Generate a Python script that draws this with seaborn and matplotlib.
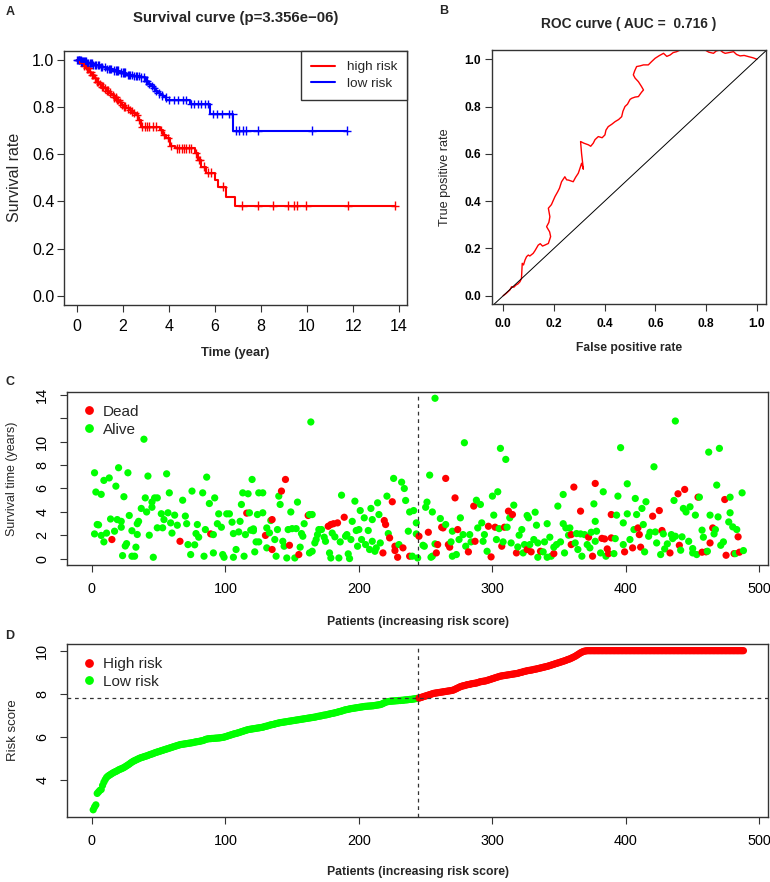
import numpy as np
import pandas as pd
import matplotlib
matplotlib.use("Agg")
import matplotlib.pyplot as plt
from matplotlib.lines import Line2D
import seaborn as sns

# ---------------- Panel A: Kaplan-Meier step data ----------------
red_time = [0, 0.15, 0.3, 0.41, 0.52, 0.62, 0.73, 0.84, 0.95, 1.06, 1.17, 1.28, 1.38, 1.49, 1.6, 1.71,
            1.82, 1.93, 2.04, 2.15, 2.26, 2.36, 2.46, 2.55, 2.65, 2.77, 3.6, 3.74, 3.89, 4.03, 4.25,
            5.12, 5.26, 5.41, 5.62, 5.99, 6.13, 6.46, 6.88, 13.81]
red_surv = [1.0, 0.985, 0.975, 0.964, 0.95, 0.936, 0.922, 0.908, 0.897, 0.887, 0.879, 0.870, 0.861,
            0.852, 0.841, 0.83, 0.82, 0.809, 0.802, 0.795, 0.788, 0.781, 0.774, 0.767, 0.745, 0.717,
            0.703, 0.682, 0.668, 0.635, 0.625, 0.604, 0.576, 0.548, 0.522, 0.491, 0.463, 0.42, 0.382,
            0.382]
blue_time = [0, 0.2, 0.41, 0.7, 0.99, 1.28, 1.57, 1.86, 2.15, 2.45, 2.73, 2.94, 3.09, 3.2, 3.3, 3.41,
             3.52, 3.63, 3.74, 3.89, 4.9, 5.77, 6.78, 11.75]
blue_surv = [1.0, 0.993, 0.986, 0.978, 0.969, 0.962, 0.955, 0.946, 0.936, 0.931, 0.926, 0.912, 0.898,
             0.889, 0.88, 0.869, 0.858, 0.85, 0.841, 0.83, 0.813, 0.77, 0.70, 0.70]
red_censor = [0.3, 0.38, 0.45, 0.5, 0.58, 0.66, 0.7, 0.78, 0.88, 0.92, 1.0, 1.1, 1.15, 1.2, 1.3, 1.35,
              1.42, 1.55, 1.62, 1.68, 1.75, 1.8, 1.88, 1.98, 2.05, 2.1, 2.2, 2.3, 2.4, 2.5, 2.6, 2.7,
              2.85, 2.95, 3.05, 3.15, 3.3, 3.45, 3.65, 3.8, 3.95, 4.1, 4.35, 4.45, 4.55, 4.65, 4.75,
              4.85, 4.95, 5.18, 5.3, 5.35, 5.5, 5.7, 5.84, 6.35, 7.19, 7.87, 8.52, 9.17, 9.43, 9.54,
              9.97, 11.78, 13.81]
blue_censor = [0.02, 0.05, 0.08, 0.1, 0.13, 0.16, 0.2, 0.24, 0.28, 0.32, 0.36, 0.4, 0.45, 0.5, 0.55,
               0.6, 0.65, 0.7, 0.78, 0.85, 0.9, 0.95, 1.05, 1.1, 1.2, 1.3, 1.4, 1.45, 1.5, 1.6, 1.7,
               1.75, 1.8, 1.9, 2.0, 2.05, 2.1, 2.2, 2.25, 2.3, 2.4, 2.5, 2.55, 2.6, 2.7, 2.8, 2.9, 3.0,
               3.05, 3.15, 3.25, 3.35, 3.45, 3.55, 3.7, 3.85, 4.0, 4.2, 4.4, 4.6, 4.75, 4.95, 5.1,
               5.25, 5.4, 5.55, 5.7, 5.9, 6.1, 6.3, 6.6, 6.75, 6.93, 7.05, 7.2, 7.36, 7.85, 10.22, 11.74]
km_title = "Survival curve (p=3.356e\u221206)"

# ---------------- Panel B: ROC curve ----------------
roc_fpr = [0, 0.012, 0.026, 0.033, 0.042, 0.05, 0.058, 0.066, 0.072, 0.075, 0.08, 0.086, 0.092,
           0.099, 0.105, 0.118, 0.125, 0.138, 0.146, 0.155, 0.164, 0.178, 0.187, 0.183, 0.171, 0.18,
           0.184, 0.178, 0.19, 0.204, 0.215, 0.222, 0.23, 0.243, 0.25, 0.257, 0.276, 0.285, 0.296,
           0.303, 0.309, 0.316, 0.309, 0.305, 0.318, 0.336, 0.345, 0.355, 0.362, 0.375, 0.39, 0.401,
           0.405, 0.414, 0.428, 0.441, 0.455, 0.467, 0.472, 0.48, 0.49, 0.5, 0.507, 0.52, 0.533,
           0.545, 0.553, 0.545, 0.533, 0.52, 0.513, 0.518, 0.526, 0.54, 0.553, 0.572, 0.585, 0.599,
           0.615, 0.632, 0.645, 0.658, 0.67, 0.684, 0.7, 0.717, 0.75, 0.796, 0.81, 0.829, 0.84,
           0.855, 0.865, 0.875, 0.89, 0.908, 0.92, 0.934, 0.95, 0.967, 0.985, 1.0]
roc_tpr = [0, 0.01, 0.024, 0.038, 0.036, 0.045, 0.05, 0.059, 0.073, 0.137, 0.13, 0.151, 0.165,
           0.172, 0.168, 0.179, 0.19, 0.214, 0.22, 0.21, 0.214, 0.221, 0.25, 0.27, 0.292, 0.31,
           0.334, 0.37, 0.385, 0.419, 0.44, 0.455, 0.482, 0.503, 0.49, 0.489, 0.482, 0.5, 0.518,
           0.54, 0.56, 0.535, 0.6, 0.652, 0.645, 0.638, 0.632, 0.645, 0.66, 0.673, 0.668, 0.68,
           0.7, 0.715, 0.725, 0.736, 0.745, 0.757, 0.78, 0.80, 0.81, 0.83, 0.835, 0.84, 0.842,
           0.86, 0.87, 0.885, 0.905, 0.92, 0.934, 0.95, 0.969, 0.972, 0.976, 0.976, 0.99, 1.004,
           1.015, 1.025, 1.012, 1.018, 1.028, 1.032, 1.04, 1.042, 1.045, 1.039, 1.03, 1.025, 1.035,
           1.039, 1.03, 1.025, 1.028, 1.032, 1.02, 1.014, 1.016, 1.011, 1.006, 1.0]
roc_title = "ROC curve ( AUC =  0.716 )"

# ---------------- Panel C: survival status per patient (patient, years) ----------------
dead_points = [(15, 1.65), (66, 1.5), (89, 2.13), (116, 3.9), (130, 2.0), (135, 3.35), (135, 0.8),
               (142, 5.78), (145, 6.77), (148, 1.16), (155, 0.37), (162, 3.7), (177, 2.78), (179, 2.93),
               (181, 3.0), (184, 3.07), (189, 3.55), (218, 0.51), (219, 3.27), (220, 2.93), (223, 1.79),
               (225, 4.87), (227, 1.08), (227, 0.71), (229, 0.14), (233, 0.94), (238, 0.23), (245, 1.93),
               (252, 2.27), (258, 0.51), (259, 1.22), (262, 2.7), (263, 2.64), (265, 6.86), (267, 1.22),
               (268, 1.0), (272, 5.2), (274, 2.5), (282, 0.6), (286, 4.5), (287, 1.5), (297, 2.78),
               (299, 0.17), (302, 2.7), (307, 1.08), (309, 2.7), (312, 4.07), (315, 3.78), (318, 0.51),
               (326, 0.8), (329, 0.6), (336, 0.65), (346, 0.45), (359, 1.22), (359, 2.07), (361, 6.12),
               (366, 4.07), (372, 1.85), (375, 0.23), (377, 6.43), (382, 1.75), (384, 1.7), (386, 0.85),
               (387, 0.45), (389, 3.78), (389, 1.79), (399, 0.6), (405, 0.94), (409, 2.64), (410, 2.07),
               (411, 1.0), (420, 3.64), (425, 4.12), (427, 2.42), (433, 0.51), (439, 5.55), (440, 1.16),
               (444, 5.92), (454, 5.26), (457, 0.57), (460, 0.6), (463, 1.36), (465, 2.64), (474, 5.06),
               (475, 0.31), (481, 0.45), (484, 1.88), (485, 0.57)]
alive_points = [
    (2, 7.34), (4, 2.93), (5, 2.9), (2, 2.13), (3, 5.7), (7, 5.5), (7, 2.0), (9, 6.69), (9, 1.45),
    (13, 6.9), (11, 2.2), (14, 3.4), (17, 2.36), (18, 6.2), (20, 7.77), (19, 3.35), (22, 3.2),
    (22, 2.7), (24, 5.3), (27, 7.34), (26, 1.3), (25, 1.1), (28, 3.7), (30, 2.4), (23, 0.28),
    (30, 0.23), (32, 0.23), (33, 1.0), (34, 3.0), (34, 2.08), (35, 3.2), (39, 10.2), (37, 4.3),
    (40, 5.2), (42, 7.06), (41, 4.0), (43, 2.02), (46, 0.14), (45, 4.4), (47, 5.2), (49, 5.2),
    (45, 4.85), (49, 2.65), (52, 3.85), (53, 2.65), (54, 3.35), (56, 7.25), (58, 5.63), (57, 3.93),
    (59, 3.07), (60, 2.2), (62, 3.73), (64, 2.87), (68, 5.0), (70, 3.65), (71, 3.0), (72, 1.22),
    (74, 0.37), (75, 5.78), (77, 1.2), (78, 2.16), (79, 2.93), (80, 1.85), (83, 5.63), (84, 0.23),
    (86, 6.97), (85, 2.5), (88, 4.72), (91, 2.07), (92, 5.2), (91, 0.51), (94, 3.0), (95, 3.84),
    (97, 2.7), (98, 0.37), (99, 0.14), (101, 3.84), (103, 3.84), (105, 3.13), (106, 0.14),
    (106, 2.16), (108, 0.8), (110, 2.3), (111, 3.2), (112, 4.64), (113, 5.63), (114, 0.23),
    (115, 2.07),
    (117, 5.55), (118, 3.93), (120, 6.77), (121, 2.56), (123, 1.45), (122, 0.6), (125, 5.63),
    (128, 5.63), (124, 3.78), (128, 3.93), (119, 2.45), (121, 2.4), (125, 1.45), (131, 2.64),
    (134, 3.27), (133, 2.22), (131, 0.94), (137, 1.65), (139, 2.5), (138, 0.23), (140, 5.35),
    (141, 4.64), (143, 1.5), (144, 1.08), (146, 0.08), (147, 2.5), (149, 4.0), (150, 2.58),
    (152, 0.08), (154, 4.84), (153, 2.58), (156, 1.0), (157, 2.16), (158, 1.93), (159, 3.0),
    (163, 3.78), (165, 3.78), (164, 11.67), (163, 0.51), (165, 0.65), (167, 1.36), (168, 1.65),
    (169, 2.07), (170, 2.5), (172, 2.5), (174, 1.85), (175, 1.5), (178, 0.51), (179, 0.08),
    (180, 2.2), (182, 1.88), (185, 0.08), (187, 5.43), (186, 1.45), (190, 1.93), (191, 2.07),
    (192, 0.43), (193, 0.03), (194, 1.65), (195, 3.2), (197, 4.92), (198, 2.42), (199, 1.08),
    (200, 2.5), (201, 4.12), (202, 1.65), (204, 3.5), (205, 1.22), (207, 2.42), (208, 0.8),
    (209, 4.3), (210, 1.5), (210, 3.35), (212, 0.65), (213, 0.94), (214, 4.78), (215, 3.78),
    (216, 1.36), (221, 5.35), (222, 2.16), (226, 6.86), (230, 1.22), (232, 6.54), (234, 6.0),
    (235, 4.98), (237, 2.36), (238, 4.0), (240, 0.23), (241, 4.12), (243, 3.07), (243, 2.13),
    (244, 0.08),
    (248, 1.16), (249, 1.08), (250, 4.4), (251, 4.84), (253, 7.14), (254, 0.14), (255, 0.23),
    (257, 13.69), (255, 4.0), (257, 1.28), (261, 3.44), (265, 2.93), (269, 1.45), (270, 0.23),
    (270, 2.36), (273, 0.37), (275, 1.65), (276, 3.5), (278, 2.07), (279, 9.9), (280, 1.08),
    (283, 2.07), (284, 1.45), (288, 5.0), (289, 2.64), (291, 4.64), (292, 3.07), (293, 1.5),
    (294, 2.07), (296, 0.65), (300, 5.35), (301, 3.73), (303, 1.65), (304, 5.72), (305, 2.58),
    (306, 9.42), (308, 1.45), (310, 8.48), (311, 2.7), (313, 3.5), (314, 1.36), (316, 4.58),
    (319, 1.02), (320, 2.02), (322, 2.5), (323, 0.51), (324, 1.22), (326, 3.7), (327, 3.5),
    (328, 1.22), (331, 1.65), (332, 3.98), (333, 2.87), (334, 0.14), (334, 1.36), (338, 0.6),
    (339, 1.45), (341, 3.0), (341, 0.14), (343, 1.85), (344, 0.23), (346, 1.0), (348, 1.22),
    (349, 4.5), (351, 1.45), (353, 5.49), (353, 3.0), (354, 0.51), (355, 2.64), (357, 2.02),
    (358, 2.64), (362, 1.36), (363, 2.16), (364, 0.8), (366, 2.13), (367, 0.23), (369, 2.07),
    (371, 1.22), (373, 0.94), (374, 2.27), (376, 4.69), (378, 2.36),
    (377, 3.2), (377, 1.5), (381, 0.51), (383, 5.72), (385, 0.23), (391, 0.45), (392, 1.73),
    (393, 3.73), (394, 5.35), (396, 9.48), (398, 3.07), (398, 1.22), (401, 3.84), (401, 6.4),
    (403, 1.65), (406, 2.5), (407, 5.15), (408, 3.78), (412, 4.3), (413, 2.93), (414, 0.6),
    (415, 4.87), (417, 1.93), (418, 2.27), (421, 7.85), (422, 2.3), (423, 1.36), (426, 0.37),
    (428, 2.13), (429, 0.85), (431, 1.28), (434, 2.07), (435, 1.73), (437, 11.75), (436, 4.98),
    (437, 1.93), (441, 0.74), (442, 1.88), (443, 4.3), (445, 4.0), (447, 1.5), (448, 4.44),
    (450, 0.88), (450, 0.51), (452, 3.73), (453, 0.37), (455, 5.26), (457, 2.45), (458, 1.85),
    (461, 0.65), (462, 9.1), (463, 3.73), (466, 2.13), (467, 2.5), (468, 6.29), (469, 3.58),
    (470, 9.42), (471, 1.16), (473, 1.45), (477, 3.15), (478, 5.26), (478, 3.93), (480, 2.73),
    (482, 0.45), (483, 2.5), (487, 5.63), (488, 0.71)]

# ---------------- Panel D: sorted risk scores ----------------
risk_low = [2.62, 2.75, 2.85, 3.38, 3.45, 3.52, 3.56, 3.75, 3.9, 4.02,
            4.12, 4.18, 4.22, 4.26, 4.3, 4.34, 4.37, 4.4, 4.43, 4.47,
            4.5, 4.52, 4.55, 4.58, 4.62, 4.66, 4.7, 4.74, 4.79, 4.83,
            4.87, 4.9, 4.93, 4.96, 4.99, 5.02, 5.04, 5.06, 5.08, 5.1,
            5.12, 5.14, 5.17, 5.19, 5.21, 5.23, 5.26, 5.28, 5.3, 5.32,
            5.34, 5.36, 5.38, 5.4, 5.42, 5.44, 5.46, 5.48, 5.5, 5.52,
            5.54, 5.56, 5.58, 5.6, 5.62, 5.64, 5.65, 5.66, 5.67, 5.68,
            5.69, 5.7, 5.71, 5.72, 5.73, 5.74, 5.76, 5.77, 5.78, 5.79,
            5.8, 5.82, 5.83, 5.85, 5.88, 5.9, 5.91, 5.92, 5.92, 5.93,
            5.93, 5.94, 5.94, 5.95, 5.95, 5.96, 5.97, 5.98, 5.99, 6.01,
            6.03, 6.05, 6.07, 6.09, 6.11, 6.13, 6.15, 6.16, 6.18, 6.2,
            6.22, 6.24, 6.26, 6.28, 6.3, 6.32, 6.34, 6.35, 6.36, 6.37,
            6.38, 6.39, 6.4, 6.41, 6.42, 6.43, 6.44, 6.45, 6.47, 6.49,
            6.5, 6.52, 6.54, 6.56, 6.57, 6.58, 6.6, 6.62, 6.63, 6.65,
            6.66, 6.67, 6.68, 6.69, 6.7, 6.71, 6.72, 6.73, 6.74, 6.75,
            6.76, 6.77, 6.78, 6.79, 6.8, 6.81, 6.82, 6.83, 6.84, 6.85,
            6.86, 6.87, 6.88, 6.89, 6.9, 6.91, 6.92, 6.93, 6.95, 6.96,
            6.97, 6.98, 7.0, 7.01, 7.02, 7.03, 7.05, 7.06, 7.08, 7.09,
            7.1, 7.12, 7.13, 7.15, 7.17, 7.18, 7.2, 7.22, 7.24, 7.26,
            7.27, 7.28, 7.3, 7.31, 7.32, 7.33, 7.34, 7.35, 7.36, 7.37,
            7.38, 7.39, 7.4, 7.41, 7.42, 7.42, 7.43, 7.43, 7.44, 7.44,
            7.45, 7.46, 7.47, 7.48, 7.49, 7.5, 7.52, 7.55, 7.58, 7.61,
            7.63, 7.64, 7.65, 7.66, 7.66, 7.67, 7.67, 7.68, 7.68, 7.69,
            7.69, 7.7, 7.7, 7.71, 7.72, 7.72, 7.73, 7.74, 7.74, 7.75,
            7.76, 7.77, 7.78, 7.79]
risk_high = [7.8, 7.82, 7.84, 7.86, 7.88, 7.9, 7.92,
             7.94, 7.96, 7.98, 8.0, 8.02, 8.03, 8.04, 8.05, 8.06, 8.07,
             8.08, 8.09, 8.1, 8.11, 8.12, 8.13, 8.14, 8.15, 8.16, 8.18,
             8.21, 8.24, 8.27, 8.3, 8.33, 8.35, 8.37, 8.38, 8.4, 8.42,
             8.43, 8.44, 8.46, 8.47, 8.48, 8.49, 8.5, 8.52, 8.54, 8.56,
             8.57, 8.58, 8.59, 8.6, 8.62, 8.64, 8.66, 8.68, 8.7, 8.72,
             8.74, 8.76, 8.78, 8.8, 8.82, 8.83, 8.84, 8.85, 8.86, 8.87,
             8.88, 8.89, 8.9, 8.91, 8.92, 8.93, 8.94, 8.95, 8.97, 8.99,
             9.0, 9.02, 9.04, 9.05, 9.07, 9.08, 9.09, 9.1, 9.11, 9.13,
             9.14, 9.15, 9.17, 9.18, 9.2, 9.21, 9.23, 9.24, 9.26, 9.27,
             9.29, 9.31, 9.33, 9.35, 9.37, 9.39, 9.41, 9.43, 9.45, 9.47,
             9.49, 9.51, 9.53, 9.55, 9.58, 9.6, 9.62, 9.65, 9.68, 9.71,
             9.74, 9.78, 9.82, 9.86, 9.9, 9.93, 9.96, 9.98, 9.99, 10.0] + [10.0] * 117

RED, BLUE, GREEN = "#FF0000", "#0000FF", "#00FF00"
EDGE = "#333333"

# ---------------- figure ----------------
sns.set_style("white")
plt.rcParams["font.family"] = ["Liberation Sans", "DejaVu Sans"]
plt.rcParams["axes.unicode_minus"] = True

W, H = 770, 882
fig = plt.figure(figsize=(W / 100, H / 100), dpi=100)


def axes_px(l, t, r, b):
    return fig.add_axes([l / W, 1 - b / H, (r - l) / W, (b - t) / H])


def style(ax, xpad, ypad):
    for s in ax.spines.values():
        s.set_visible(True)
        s.set_color(EDGE)
        s.set_linewidth(1.0)
    ax.tick_params(bottom=True, left=True, direction="out", length=5, width=0.8,
                   color=EDGE, labelcolor="black")
    ax.tick_params(axis="x", pad=xpad)
    ax.tick_params(axis="y", pad=ypad)


def set_labels(ax, xl, yl, xy, yx, xfs, yfs, xw="bold", yw="normal"):
    ax.set_xlabel(xl, fontsize=xfs, fontweight=xw)
    ax.set_ylabel(yl, fontsize=yfs, fontweight=yw)
    ax.xaxis.set_label_coords(0.5, xy)
    ax.yaxis.set_label_coords(yx, 0.5)
    ax.xaxis.label.set_va("center")
    ax.yaxis.label.set_va("center")


axA = axes_px(64, 50.7, 407, 305)
axB = axes_px(492.3, 50, 766, 304)
axC = axes_px(67.3, 391.7, 768, 565)
axD = axes_px(67.3, 644, 768, 816.7)

# ---- A ----
km = pd.DataFrame({"time": red_time + blue_time, "surv": red_surv + blue_surv,
                   "group": ["high risk"] * len(red_time) + ["low risk"] * len(blue_time)})
pal_km = {"high risk": RED, "low risk": BLUE}
sns.lineplot(data=km, x="time", y="surv", hue="group", palette=pal_km, estimator=None,
             sort=False, drawstyle="steps-post", linewidth=1.5, legend=False, ax=axA)


def surv_at(times, survs, t):
    idx = np.searchsorted(np.asarray(times), np.asarray(t), side="right") - 1
    return list(np.asarray(survs)[idx])


cens = pd.DataFrame({"time": red_censor + blue_censor,
                     "surv": surv_at(red_time, red_surv, red_censor) + surv_at(blue_time, blue_surv, blue_censor),
                     "group": ["high risk"] * len(red_censor) + ["low risk"] * len(blue_censor)})
sns.scatterplot(data=cens, x="time", y="surv", hue="group", palette=pal_km, marker="+",
                s=38, linewidth=1.0, legend=False, ax=axA)
axA.set_xlim(-0.56, 14.34)
axA.set_ylim(-0.039, 1.039)
axA.set_xticks(range(0, 15, 2))
axA.set_yticks([0, 0.2, 0.4, 0.6, 0.8, 1.0], ["0.0", "0.2", "0.4", "0.6", "0.8", "1.0"])
style(axA, 5, 2)
axA.tick_params(labelsize=11.5)
set_labels(axA, "Time (year)", "Survival rate", -0.1876, -0.1429, 9.3, 11.5)
leg = axA.legend([Line2D([], [], color=RED, lw=1.5), Line2D([], [], color=BLUE, lw=1.5)],
                 ["high risk", "low risk"], loc="upper right", borderaxespad=0, fancybox=False,
                 edgecolor=EDGE, fontsize=9.7, handlelength=1.8, handletextpad=0.85,
                 borderpad=0.75, labelspacing=0.3, framealpha=1)
leg.get_frame().set_linewidth(1.0)

# ---- B ----
roc = pd.DataFrame({"fpr": roc_fpr, "tpr": roc_tpr})
sns.lineplot(data=roc, x="fpr", y="tpr", sort=False, estimator=None, color=RED, linewidth=1.0, ax=axB)
axB.axline((0, 0), (1, 1), color="black", linewidth=0.7)
axB.set_xlim(-0.043, 1.036)
axB.set_ylim(-0.035, 1.039)
tk = [0, 0.2, 0.4, 0.6, 0.8, 1.0]
tl = ["0.0", "0.2", "0.4", "0.6", "0.8", "1.0"]
axB.set_xticks(tk, tl, fontweight="bold")
axB.set_yticks(tk, tl, fontweight="bold")
style(axB, 5, 3)
axB.tick_params(labelsize=8.6)
set_labels(axB, "False positive rate", "True positive rate", -0.1744, -0.1728, 8.7, 9.1)

# ---- C ----
dfC = pd.DataFrame({"patient": [p for p, _ in dead_points] + [p for p, _ in alive_points],
                    "time": [t for _, t in dead_points] + [t for _, t in alive_points],
                    "status": ["Dead"] * len(dead_points) + ["Alive"] * len(alive_points)})
dfC = dfC.sort_values("patient", kind="stable")
pal_c = {"Dead": RED, "Alive": GREEN}
sns.scatterplot(data=dfC, x="patient", y="time", hue="status", palette=pal_c, s=27,
                linewidth=0, legend=False, ax=axC)

risk = risk_low + risk_high
cutoff = float(np.median(risk))
n_low = int(np.sum(np.asarray(risk) < cutoff))
axC.axvline(n_low, color=EDGE, linestyle=(0, (3, 3)), linewidth=0.9)
axC.set_xlim(-18.4, 506.4)
axC.set_ylim(-0.52, 14.25)
axC.set_xticks(range(0, 501, 100))
axC.set_yticks(range(0, 15, 2), ["0", "2", "4", "6", "8", "10", "", "14"])
style(axC, 7.5, 8)
axC.tick_params(labelsize=10.4)
axC.tick_params(axis="y", labelrotation=90)
for lab in axC.get_yticklabels():
    lab.set_va("center")
set_labels(axC, "Patients (increasing risk score)", "Survival time (years)", -0.327, -0.0793, 8.8, 9.0)
hC = [Line2D([], [], marker="o", ls="", color=c, markersize=5.3) for c in (RED, GREEN)]
axC.legend(hC, ["Dead", "Alive"], loc="upper left", frameon=False, fontsize=11,
           handletextpad=0.3, labelspacing=0.25, borderaxespad=0.45, handlelength=1.2)

# ---- D ----
dfD = pd.DataFrame({"patient": np.arange(1, len(risk) + 1), "score": risk,
                    "group": ["Low risk" if r < cutoff else "High risk" for r in risk]})
sns.scatterplot(data=dfD, x="patient", y="score", hue="group",
                palette={"High risk": RED, "Low risk": GREEN}, s=27, linewidth=0,
                legend=False, ax=axD)
axD.axvline(n_low, color=EDGE, linestyle=(0, (3, 3)), linewidth=0.9)
axD.axhline(cutoff, color=EDGE, linestyle=(0, (3, 3)), linewidth=0.9)
axD.set_xlim(-18.4, 506.4)
axD.set_ylim(2.30, 10.31)
axD.set_xticks(range(0, 501, 100))
axD.set_yticks([4, 6, 8, 10])
style(axD, 7.5, 8)
axD.tick_params(labelsize=10.4)
axD.tick_params(axis="y", labelrotation=90)
for lab in axD.get_yticklabels():
    lab.set_va("center")
set_labels(axD, "Patients (increasing risk score)", "Risk score", -0.318, -0.0779, 8.8, 9.5)
hD = [Line2D([], [], marker="o", ls="", color=c, markersize=5.3) for c in (RED, GREEN)]
axD.legend(hD, ["High risk", "Low risk"], loc="upper left", frameon=False, fontsize=11,
           handletextpad=0.3, labelspacing=0.25, borderaxespad=0.45, handlelength=1.2)

# ---- titles and panel letters ----
fig.text(235.5 / W, 1 - 18.3 / H, km_title, ha="center", va="center", fontsize=10.8, fontweight="bold")
fig.text(629 / W, 1 - 24 / H, roc_title, ha="center", va="center", fontsize=9.9, fontweight="bold")
for letter, x, y in [("A", 10, 12), ("B", 444, 11), ("C", 10, 381.7), ("D", 10, 636)]:
    fig.text(x / W, 1 - y / H, letter, ha="center", va="center", fontsize=9, fontweight="bold")

fig.savefig("out.png", dpi=100)
